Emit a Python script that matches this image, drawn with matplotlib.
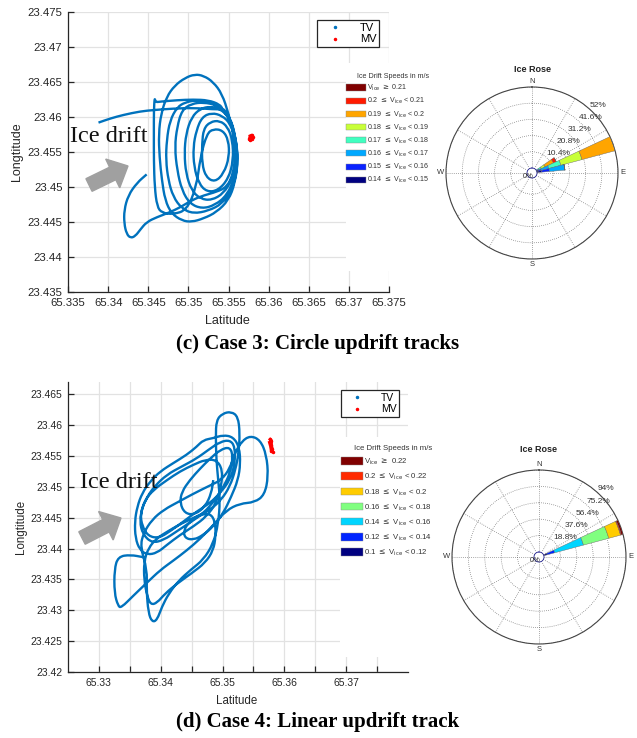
import numpy as np
import matplotlib
matplotlib.use("Agg")
import matplotlib.pyplot as plt
from matplotlib.patches import Patch, FancyArrow, PathPatch
from matplotlib.path import Path
from matplotlib.lines import Line2D

plt.rcParams['font.family'] = ['Liberation Sans', 'DejaVu Sans']

W, H = 637, 738
TV_BLUE = '#0072BD'
INK = '#262626'

# ---------------- case 3 : circular drift ----------------
c3_lat = [65.3448, 65.3436, 65.3425, 65.3420, 65.3420, 65.3423, 65.3428, 65.3434, 65.3440, 65.3448,
          65.3461, 65.3475, 65.3490, 65.3504, 65.3519, 65.3535, 65.3548,
          65.3556, 65.3559, 65.3556, 65.3550, 65.3542, 65.3531, 65.3519, 65.3508, 65.3496, 65.3483,
          65.3473, 65.3466, 65.3463, 65.3464, 65.3467, 65.3471, 65.3479, 65.3492, 65.3504, 65.3519,
          65.3535, 65.3550, 65.3558, 65.3562, 65.3559, 65.3552, 65.3542,
          65.3527, 65.3510, 65.3496, 65.3486, 65.3477, 65.3473, 65.3472, 65.3475, 65.3481, 65.3492,
          65.3506, 65.3525, 65.3542, 65.3554, 65.3561, 65.3561, 65.3555, 65.3546, 65.3535, 65.3519,
          65.3504, 65.3492, 65.3486, 65.3483, 65.3486, 65.3492, 65.3502, 65.3517, 65.3533, 65.3548,
          65.3558, 65.3561, 65.3558, 65.3551, 65.3539, 65.3527, 65.3515,
          65.3504, 65.3497, 65.3495, 65.3497, 65.3504, 65.3515, 65.3529, 65.3544, 65.3554, 65.3560,
          65.3558, 65.3552, 65.3542, 65.3529, 65.3517,
          65.3510, 65.3506, 65.3507, 65.3513, 65.3523, 65.3537, 65.3550, 65.3556, 65.3555, 65.3549,
          65.3539, 65.3527, 65.3519,
          65.3517, 65.3517, 65.3522, 65.3533, 65.3544, 65.3551, 65.3550, 65.3543, 65.3531, 65.3523,
          65.3515, 65.3510, 65.3498, 65.3481, 65.3467, 65.3461, 65.3458, 65.3457, 65.3457, 65.3457,
          65.3458, 65.3459, 65.3465, 65.3486, 65.3506, 65.3525, 65.3539, 65.3543, 65.3531, 65.3506,
          65.3481, 65.3457, 65.3440, 65.3419, 65.3403, 65.3388]
c3_lon = [23.4518, 23.4506, 23.4488, 23.4467, 23.4448, 23.4433, 23.4427, 23.4430, 23.4439, 23.4450,
          23.4457, 23.4463, 23.4471, 23.4481, 23.4488, 23.4493, 23.4500,
          23.4519, 23.4548, 23.4576, 23.4605, 23.4633, 23.4650, 23.4659, 23.4661, 23.4656, 23.4645,
          23.4629, 23.4605, 23.4576, 23.4543, 23.4510, 23.4481, 23.4462, 23.4452, 23.4450, 23.4455,
          23.4464, 23.4481, 23.4505, 23.4538, 23.4571, 23.4600, 23.4614,
          23.4621, 23.4624, 23.4621, 23.4614, 23.4595, 23.4567, 23.4538, 23.4510, 23.4486, 23.4469,
          23.4462, 23.4466, 23.4476, 23.4495, 23.4524, 23.4557, 23.4586, 23.4607, 23.4617, 23.4621,
          23.4619, 23.4610, 23.4586, 23.4557, 23.4524, 23.4495, 23.4476, 23.4469, 23.4474, 23.4488,
          23.4514, 23.4543, 23.4576, 23.4600, 23.4612, 23.4615, 23.4612,
          23.4600, 23.4576, 23.4548, 23.4519, 23.4495, 23.4483, 23.4481, 23.4491, 23.4510, 23.4538,
          23.4571, 23.4591, 23.4602, 23.4606, 23.4600,
          23.4581, 23.4557, 23.4529, 23.4505, 23.4493, 23.4495, 23.4512, 23.4538, 23.4567, 23.4586,
          23.4595, 23.4593, 23.4583,
          23.4562, 23.4533, 23.4514, 23.4507, 23.4519, 23.4543, 23.4567, 23.4581, 23.4583, 23.4576,
          23.4543, 23.4500, 23.4467, 23.4461, 23.4463, 23.4472, 23.4500, 23.4538, 23.4576, 23.4610,
          23.4628, 23.4621, 23.4622, 23.4624, 23.4625, 23.4624, 23.4618, 23.4611, 23.4611, 23.4613,
          23.4612, 23.4610, 23.4608, 23.4603, 23.4598, 23.4592]
c3_mv_lat = [65.3577, 65.3579, 65.3580, 65.3579, 65.3577, 65.3576, 65.3577, 65.3579]
c3_mv_lon = [23.4573, 23.4574, 23.4571, 23.4568, 23.4567, 23.4569, 23.4571, 23.4570]

c3_xticks = [65.335, 65.34, 65.345, 65.35, 65.355, 65.36, 65.365, 65.37, 65.375]
c3_xlabels = ['65.335', '65.34', '65.345', '65.35', '65.355', '65.36', '65.365', '65.37', '65.375']
c3_yticks = [23.435, 23.44, 23.445, 23.45, 23.455, 23.46, 23.465, 23.47, 23.475]
c3_ylabels = ['23.435', '23.44', '23.445', '23.45', '23.455', '23.46', '23.465', '23.47', '23.475']

c3_speed_labels = [r'V$_{\rm ice}$ $\geq$ 0.21',
                   r'0.2 $\leq$ V$_{\rm ice}$ < 0.21',
                   r'0.19 $\leq$ V$_{\rm ice}$ < 0.2',
                   r'0.18 $\leq$ V$_{\rm ice}$ < 0.19',
                   r'0.17 $\leq$ V$_{\rm ice}$ < 0.18',
                   r'0.16 $\leq$ V$_{\rm ice}$ < 0.17',
                   r'0.15 $\leq$ V$_{\rm ice}$ < 0.16',
                   r'0.14 $\leq$ V$_{\rm ice}$ < 0.15']
c3_speed_colors = ['#800000', '#ff1a00', '#ffa500', '#c8ff38', '#40ffc0', '#00a8ff', '#0a22ff', '#000080']

# rose: direction (deg from N) -> frequency (%) per speed class, slowest first
c3_dirs = [60, 70, 80]
c3_freq = [[0.0, 0.5, 1.0, 2.0, 2.5, 6.0, 2.0, 0.0],
           [1.0, 2.0, 5.0, 8.0, 14.0, 22.0, 0.0, 0.0],
           [3.0, 5.0, 10.0, 0.0, 0.0, 0.0, 0.0, 0.0]]
c3_rings = [10.4, 20.8, 31.2, 41.6, 52]
c3_ring_labels = ['10.4%', '20.8%', '31.2%', '41.6%', '52%']

# ---------------- case 4 : linear drift ----------------
c4_lat = [65.3372, 65.3351, 65.3331, 65.3325, 65.3325, 65.3331, 65.3336, 65.3356, 65.3378, 65.3399,
          65.3421, 65.3442, 65.3464, 65.3485, 65.3506, 65.3528, 65.3552, 65.3568, 65.3574, 65.3571,
          65.3561, 65.3545, 65.3531, 65.3520, 65.3512, 65.3498, 65.3477, 65.3453, 65.3429, 65.3405,
          65.3386, 65.3372, 65.3367, 65.3378, 65.3377, 65.3380, 65.3386, 65.3394, 65.3402, 65.3413,
          65.3429, 65.3449, 65.3469, 65.3485, 65.3493, 65.3496, 65.3493, 65.3490, 65.3489, 65.3490,
          65.3500, 65.3514, 65.3525, 65.3528, 65.3526, 65.3521, 65.3512, 65.3498, 65.3480, 65.3458,
          65.3434, 65.3413, 65.3394, 65.3380, 65.3373, 65.3373, 65.3378, 65.3384, 65.3394, 65.3407,
          65.3426, 65.3450, 65.3472, 65.3485, 65.3489, 65.3488, 65.3480, 65.3464, 65.3447, 65.3437,
          65.3439, 65.3453, 65.3469, 65.3485, 65.3501, 65.3514, 65.3525, 65.3529, 65.3527, 65.3517,
          65.3501, 65.3485, 65.3469, 65.3458, 65.3442, 65.3421, 65.3399, 65.3383, 65.3370, 65.3362,
          65.3358, 65.3359, 65.3366, 65.3378, 65.3394, 65.3410, 65.3431, 65.3453, 65.3474, 65.3490,
          65.3498, 65.3500, 65.3490, 65.3472, 65.3453, 65.3431, 65.3410, 65.3388, 65.3375, 65.3367,
          65.3370, 65.3380, 65.3397, 65.3415, 65.3437, 65.3458, 65.3480, 65.3496, 65.3512, 65.3520,
          65.3520, 65.3512, 65.3496, 65.3477, 65.3458, 65.3434, 65.3410, 65.3390, 65.3378,
          65.3370, 65.3366, 65.3371, 65.3386, 65.3405, 65.3426, 65.3447, 65.3469, 65.3488, 65.3502,
          65.3512, 65.3517, 65.3512, 65.3496, 65.3480, 65.3464, 65.3447, 65.3434, 65.3431, 65.3439,
          65.3455, 65.3472, 65.3482, 65.3485]
c4_lon = [23.4386, 23.4390, 23.4387, 23.4366, 23.4328, 23.4307, 23.4304, 23.4324, 23.4345, 23.4365,
          23.4381, 23.4397, 23.4416, 23.4438, 23.4462, 23.4473, 23.4475, 23.4487, 23.4517, 23.4552,
          23.4576, 23.4583, 23.4574, 23.4555, 23.4530, 23.4511, 23.4501, 23.4489, 23.4476, 23.4463,
          23.4447, 23.4425, 23.4403, 23.4366, 23.4333, 23.4296, 23.4281, 23.4284, 23.4306, 23.4327,
          23.4348, 23.4366, 23.4382, 23.4408, 23.4440, 23.4478, 23.4511, 23.4544, 23.4581, 23.4608,
          23.4619, 23.4622, 23.4614, 23.4587, 23.4555, 23.4528, 23.4501, 23.4479, 23.4463, 23.4452,
          23.4441, 23.4429, 23.4417, 23.4401, 23.4379, 23.4350, 23.4323, 23.4309, 23.4312, 23.4327,
          23.4343, 23.4360, 23.4377, 23.4397, 23.4420, 23.4444, 23.4457, 23.4455, 23.4444, 23.4430,
          23.4417, 23.4414, 23.4422, 23.4436, 23.4457, 23.4484, 23.4511, 23.4538, 23.4565, 23.4581,
          23.4584, 23.4579, 23.4576, 23.4565, 23.4552, 23.4539, 23.4525, 23.4509, 23.4490, 23.4468,
          23.4444, 23.4417, 23.4398, 23.4390, 23.4393, 23.4406, 23.4422, 23.4436, 23.4452, 23.4474,
          23.4501, 23.4528, 23.4544, 23.4544, 23.4536, 23.4525, 23.4511, 23.4495, 23.4479, 23.4457,
          23.4436, 23.4420, 23.4417, 23.4428, 23.4444, 23.4460, 23.4474, 23.4490, 23.4511, 23.4538,
          23.4565, 23.4576, 23.4573, 23.4560, 23.4546, 23.4533, 23.4520, 23.4501, 23.4484,
          23.4466, 23.4444, 23.4423, 23.4409, 23.4414, 23.4428, 23.4442, 23.4457, 23.4479, 23.4501,
          23.4522, 23.4549, 23.4565, 23.4560, 23.4546, 23.4530, 23.4511, 23.4492, 23.4474, 23.4457,
          23.4455, 23.4468, 23.4490, 23.4511]
c4_mv_lat = [65.3577, 65.3579, 65.3579, 65.3580, 65.3581, 65.3579, 65.3578, 65.3576]
c4_mv_lon = [23.4577, 23.4575, 23.4568, 23.4562, 23.4557, 23.4558, 23.4565, 23.4572]

c4_xticks = [65.33, 65.335, 65.34, 65.345, 65.35, 65.355, 65.36, 65.365, 65.37, 65.375]
c4_xlabels = ['65.33', '', '65.34', '', '65.35', '', '65.36', '', '65.37', '']
c4_yticks = [23.42, 23.425, 23.43, 23.435, 23.44, 23.445, 23.45, 23.455, 23.46, 23.465]
c4_ylabels = ['23.42', '23.425', '23.43', '23.435', '23.44', '23.445', '23.45', '23.455', '23.46', '23.465']

c4_speed_labels = [r'V$_{\rm ice}$ $\geq$ 0.22',
                   r'0.2 $\leq$ V$_{\rm ice}$ < 0.22',
                   r'0.18 $\leq$ V$_{\rm ice}$ < 0.2',
                   r'0.16 $\leq$ V$_{\rm ice}$ < 0.18',
                   r'0.14 $\leq$ V$_{\rm ice}$ < 0.16',
                   r'0.12 $\leq$ V$_{\rm ice}$ < 0.14',
                   r'0.1 $\leq$ V$_{\rm ice}$ < 0.12']
c4_speed_colors = ['#800000', '#ff2a00', '#ffcc00', '#80ff80', '#00d5ff', '#0025ff', '#000080']

c4_dirs = [70]
c4_freq = [[4.0, 9.0, 34.0, 30.0, 14.0, 1.0, 2.0]]
c4_rings = [18.8, 37.6, 56.4, 75.2, 94]
c4_ring_labels = ['18.8%', '37.6%', '56.4%', '75.2%', '94%']


def rect(l, t, r, b):
    # pixel box -> figure fraction
    return [l / W, 1 - b / H, (r - l) / W, (b - t) / H]


def smooth_track(x, y):
    # GPS fixes joined with quadratic Bezier pieces so the loops read as a smooth track
    pts = np.column_stack([x, y])
    mids = (pts[:-1] + pts[1:]) / 2
    verts = [pts[0], mids[0]]
    codes = [Path.MOVETO, Path.LINETO]
    for i in range(1, len(pts) - 1):
        verts += [pts[i], mids[i]]
        codes += [Path.CURVE3, Path.CURVE3]
    verts.append(pts[-1])
    codes.append(Path.LINETO)
    return Path(verts, codes)


def track_axes(box, lat, lon, mv_lat, mv_lon, xlim, ylim, xt, xl, yt, yl, fs):
    ax = fig.add_axes(rect(*box))
    ax.add_patch(PathPatch(smooth_track(lat, lon), fill=False, edgecolor=TV_BLUE,
                           lw=1.7, joinstyle='round', zorder=3))
    ax.plot(mv_lat, mv_lon, color='red', lw=2.2, marker='.', ms=3, zorder=3)
    ax.set_xlim(*xlim)
    ax.set_ylim(*ylim)
    ax.set_xticks(xt)
    ax.set_xticklabels(xl)
    ax.set_yticks(yt)
    ax.set_yticklabels(yl)
    ax.grid(True, color='#e2e2e2', lw=0.9)
    ax.set_axisbelow(True)
    for s in ['top', 'right']:
        ax.spines[s].set_visible(False)
    for s in ['left', 'bottom']:
        ax.spines[s].set_color(INK)
        ax.spines[s].set_linewidth(0.9)
    ax.tick_params(direction='in', length=4, width=0.9, colors=INK, labelsize=fs, pad=4)
    ax.set_xlabel('Latitude', fontsize=fs + 0.8, color=INK)
    ax.set_ylabel('Longtitude', fontsize=fs + 0.8, color=INK)
    return ax


def tv_legend(ax, right, top, fs):
    handles = [Line2D([], [], ls='', marker='.', ms=3, color=TV_BLUE),
               Line2D([], [], ls='', marker='.', ms=3, color='red')]
    leg = ax.legend(handles, ['TV', 'MV'], loc='upper right',
                    bbox_to_anchor=(right / W, 1 - top / H), bbox_transform=fig.transFigure,
                    fancybox=False, framealpha=1, edgecolor=INK, fontsize=fs,
                    handlelength=2.7, handletextpad=0.9, borderpad=0.25, labelspacing=0.15,
                    borderaxespad=0)
    leg.get_frame().set_linewidth(0.9)


def speed_legend(labels, colors, left, top, fs, hh, ls):
    handles = [Patch(facecolor=c, edgecolor='#8a8a8a', lw=0.3) for c in colors]
    leg = fig.legend(handles, labels, loc='upper left', bbox_to_anchor=(left / W, 1 - top / H),
                     frameon=False, fontsize=fs, title='Ice Drift Speeds in m/s',
                     title_fontsize=fs, handlelength=2.8, handleheight=hh, handletextpad=0.15,
                     labelspacing=ls, borderpad=0, borderaxespad=0, alignment='right')
    for t in leg.get_texts():
        t.set_color('#333333')
    leg.get_title().set_color('#333333')
    leg.set_zorder(6)


def rose(cx, cy, R, dirs, freq, colors, rings, ring_labels, title_pad):
    ax = fig.add_axes(rect(cx - R, cy - R, cx + R, cy + R), projection='polar', zorder=5)
    ax.set_theta_zero_location('N')
    ax.set_theta_direction(-1)
    rmax = rings[-1]
    hole = rmax * 5.0 / (R - 5.0)
    for d, f in zip(dirs, freq):
        base = np.concatenate([[0], np.cumsum(f)[:-1]])
        ax.bar(np.full(len(f), np.deg2rad(d)), f, width=np.deg2rad(10), bottom=base,
               color=colors[::-1], edgecolor='#666666', lw=0.3, zorder=3)
    ax.set_rorigin(-hole)
    ax.set_rlim(0, rmax)
    ax.set_xticks(np.deg2rad(np.arange(0, 360, 30)))
    ax.set_xticklabels([])
    ax.set_yticks(rings)
    ax.set_yticklabels([])
    ax.grid(True, color='#555555', lw=0.5, linestyle=(0, (1, 2)))
    ax.spines['polar'].set_color('#444444')
    ax.spines['polar'].set_linewidth(0.8)
    ax.spines['inner'].set_color('#1a1a8c')
    ax.spines['inner'].set_linewidth(0.6)
    # cardinal points just outside the rim
    rr = rmax + (rmax + hole) * 0.06
    for ang, lab in zip([0, 90, 180, 270], ['N', 'E', 'S', 'W']):
        ax.text(np.deg2rad(ang), rr, lab, fontsize=5.5, color='#333333',
                ha='center', va='center', clip_on=False)
    for r, lab in zip(rings, ring_labels):
        ax.text(np.deg2rad(42), r, lab, fontsize=6, color='#333333',
                ha='left', va='bottom', clip_on=False, zorder=4)
    ax.text(np.deg2rad(225), 0, '0%', fontsize=5.5, color='#333333',
            ha='center', va='center', zorder=4)
    ax.set_title('Ice Rose', fontsize=6.5, fontweight='bold', color='#222222', pad=title_pad)
    return ax


fig = plt.figure(figsize=(W / 100, H / 100), dpi=100)

# ---- case 3 ----
ax3 = track_axes((68, 12, 389, 292), c3_lat, c3_lon, c3_mv_lat, c3_mv_lon,
                 (65.335, 65.375), (23.435, 23.475), c3_xticks, c3_xlabels,
                 c3_yticks, c3_ylabels, 8.2)
ax3.yaxis.set_label_coords(-0.14, 0.5)
ax3.xaxis.set_label_coords(0.498, -0.082)
tv_legend(ax3, 379, 20, 8)

cover3 = fig.add_axes(rect(346, 63, 637, 271), zorder=4)
cover3.axis('off')
cover3.add_patch(plt.Rectangle((0, 0), 1, 1, transform=cover3.transAxes, color='white'))
speed_legend(c3_speed_labels, c3_speed_colors, 346, 73, 5.1, 0.95, 0.42)
rose(532, 173, 86, c3_dirs, c3_freq, c3_speed_colors, c3_rings, c3_ring_labels, 11)

# ---- case 4 ----
ax4 = track_axes((68, 382, 408, 672), c4_lat, c4_lon, c4_mv_lat, c4_mv_lon,
                 (65.325, 65.38), (23.42, 23.467), c4_xticks, c4_xlabels,
                 c4_yticks, c4_ylabels, 7.5)
ax4.yaxis.set_label_coords(-0.12, 0.5)
ax4.xaxis.set_label_coords(0.497, -0.079)
tv_legend(ax4, 399, 390, 7.5)

cover4 = fig.add_axes(rect(340, 437, 637, 657), zorder=4)
cover4.axis('off')
cover4.add_patch(plt.Rectangle((0, 0), 1, 1, transform=cover4.transAxes, color='white'))
speed_legend(c4_speed_labels, c4_speed_colors, 341, 445, 5.6, 1.1, 0.6)
rose(539, 557, 87, c4_dirs, c4_freq, c4_speed_colors, c4_rings, c4_ring_labels, 13)

# drift annotations
for tx, ty, x0, y0, x1, y1 in [(70, 137, 89, 185, 128, 166), (80, 483, 82, 538, 121, 518)]:
    fig.text(tx / W, 1 - ty / H, 'Ice drift', family='Liberation Serif', fontsize=17.5,
             ha='left', va='center', color='#111111')
    dx, dy = (x1 - x0) / 100, -(y1 - y0) / 100
    fig.add_artist(FancyArrow(x0 / 100, (H - y0) / 100, dx, dy, width=0.14,
                              head_width=0.32, head_length=0.17, length_includes_head=True,
                              color='#a0a0a0', transform=fig.dpi_scale_trans))

fig.text(318 / W, 1 - 344 / H, '(c) Case 3: Circle updrift tracks', family='Liberation Serif',
         fontsize=15, fontweight='bold', ha='center', va='center')
fig.text(318 / W, 1 - 722 / H, '(d) Case 4: Linear updrift track', family='Liberation Serif',
         fontsize=15, fontweight='bold', ha='center', va='center')

fig.savefig('out.png', dpi=100)
